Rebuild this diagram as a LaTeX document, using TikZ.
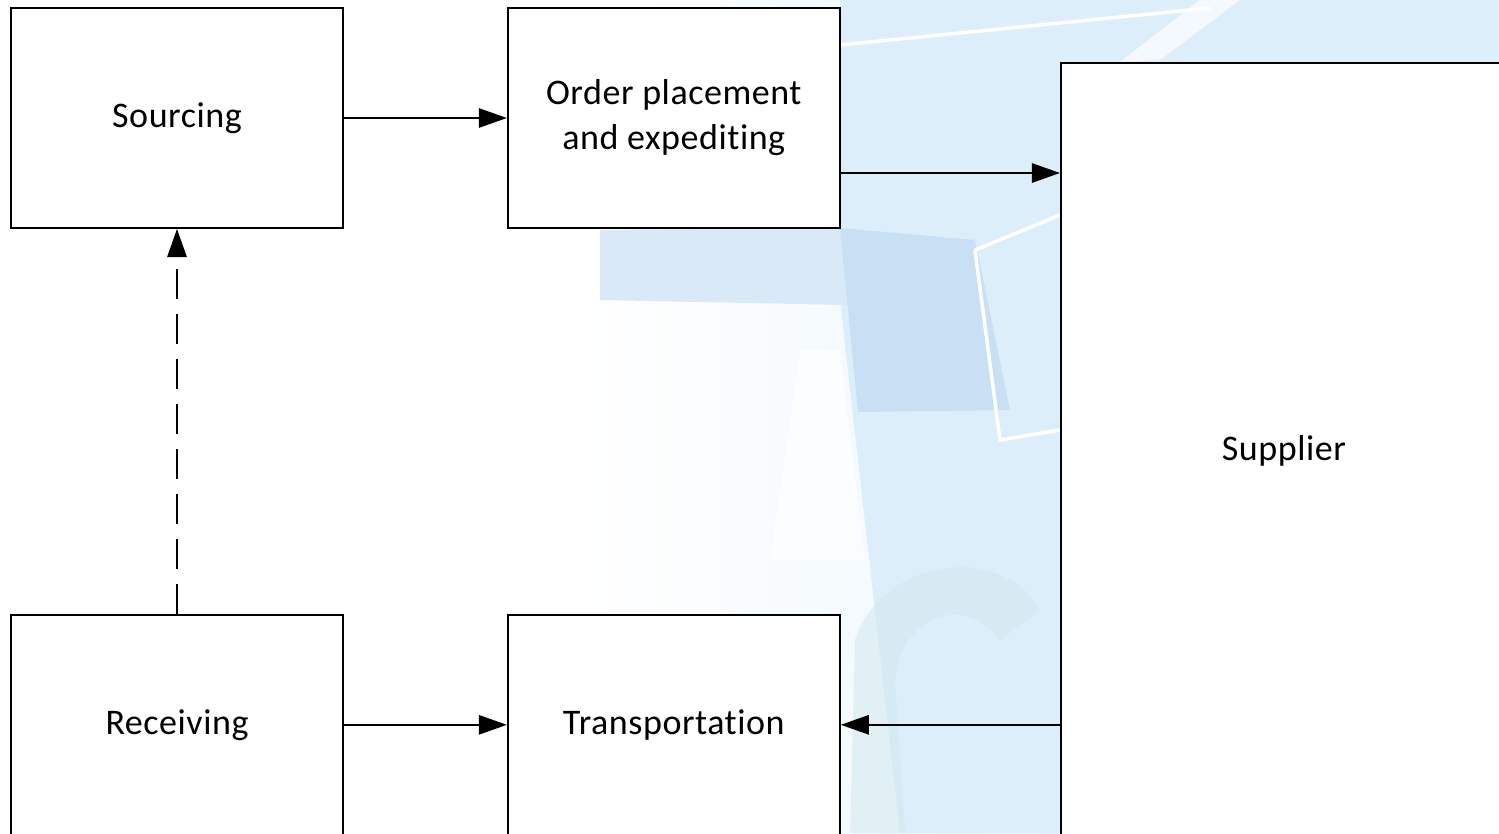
\documentclass[tikz,border=0pt]{standalone}
\usepackage{fontspec}
\setmainfont{Carlito}[Ligatures=NoCommon,LetterSpace=1.5]
\usetikzlibrary{positioning,arrows.meta,backgrounds}
\definecolor{wash}{HTML}{DCEEF9}
\definecolor{washd}{HTML}{C9E0F4}
\definecolor{washt}{HTML}{CFE8EC}
\tikzset{
  stage/.style = {draw,line width=1.1pt,fill=white,minimum width=6.64cm,minimum height=4.4cm,align=center,font=\fontsize{20.5}{25.6}\selectfont,inner sep=0pt},
  party/.style = {stage,minimum width=8.92cm,minimum height=15.52cm},
  arr/.style = {draw,line width=1.1pt,-{Triangle[length=16pt,width=11pt]}},
  arrd/.style = {arr,dash pattern=on 0.6cm off 0.3cm}
}
\newlength{\hgap}
\setlength{\hgap}{3.26cm}
\newlength{\vgap}
\setlength{\vgap}{7.70cm}
\begin{document}
\begin{tikzpicture}[x=0.02cm,y=-0.02cm]
\useasboundingbox (0,0) rectangle (1499,833);
\clip (0,0) rectangle (1499,833);

% pale backdrop
\shade[left color=white,right color=wash] (580,0) rectangle (1499,833);
\fill[wash] (840,0) -- (1499,0) -- (1499,833) -- (900,833) -- (840,300) -- cycle;
\fill[washd!70] (600,230) -- (845,228) -- (848,305) -- (600,300) -- cycle;
\fill[washd] (840,228) -- (975,240) -- (1010,410) -- (858,412) -- cycle;
\fill[white,opacity=0.6] (800,350) -- (840,350) -- (865,560) -- (770,560) -- cycle;
\draw[white,line width=2pt] (975,250) -- (1060,215);
\draw[white,line width=2pt] (975,250) -- (1000,440) -- (1060,430);
\draw[white,line width=2pt] (840,45) -- (1210,8);
\fill[white,opacity=0.7] (1200,0) -- (1240,0) -- (1160,60) -- (1120,62) -- cycle;
\fill[washt,opacity=0.5] (850,833) -- (855,640) .. controls (880,560) and (1000,540) .. (1040,610)
  -- (1000,640) .. controls (960,590) and (900,620) .. (895,680) -- (905,833) -- cycle;

\node[stage] (sourcing) at (177,118) {Sourcing};
\node[stage,right=\hgap of sourcing] (order) {Order placement\\and expediting};
\node[stage,below=\vgap of sourcing] (receiving) {Receiving};
\node[stage,right=\hgap of receiving] (transport) {Transportation};
\node[party,anchor=north west] (supplier) at (1060,62) {Supplier};

\draw[arr] (sourcing) -- (order);
\draw[arr] ([yshift=-1.1cm]order.east) -- ([yshift=-1.1cm]order.east -| supplier.west);
\draw[arr] (transport.east -| supplier.west) -- (transport.east);
\draw[arr] (receiving) -- (transport);
\draw[arrd] (receiving) -- (sourcing);
\end{tikzpicture}
\end{document}
